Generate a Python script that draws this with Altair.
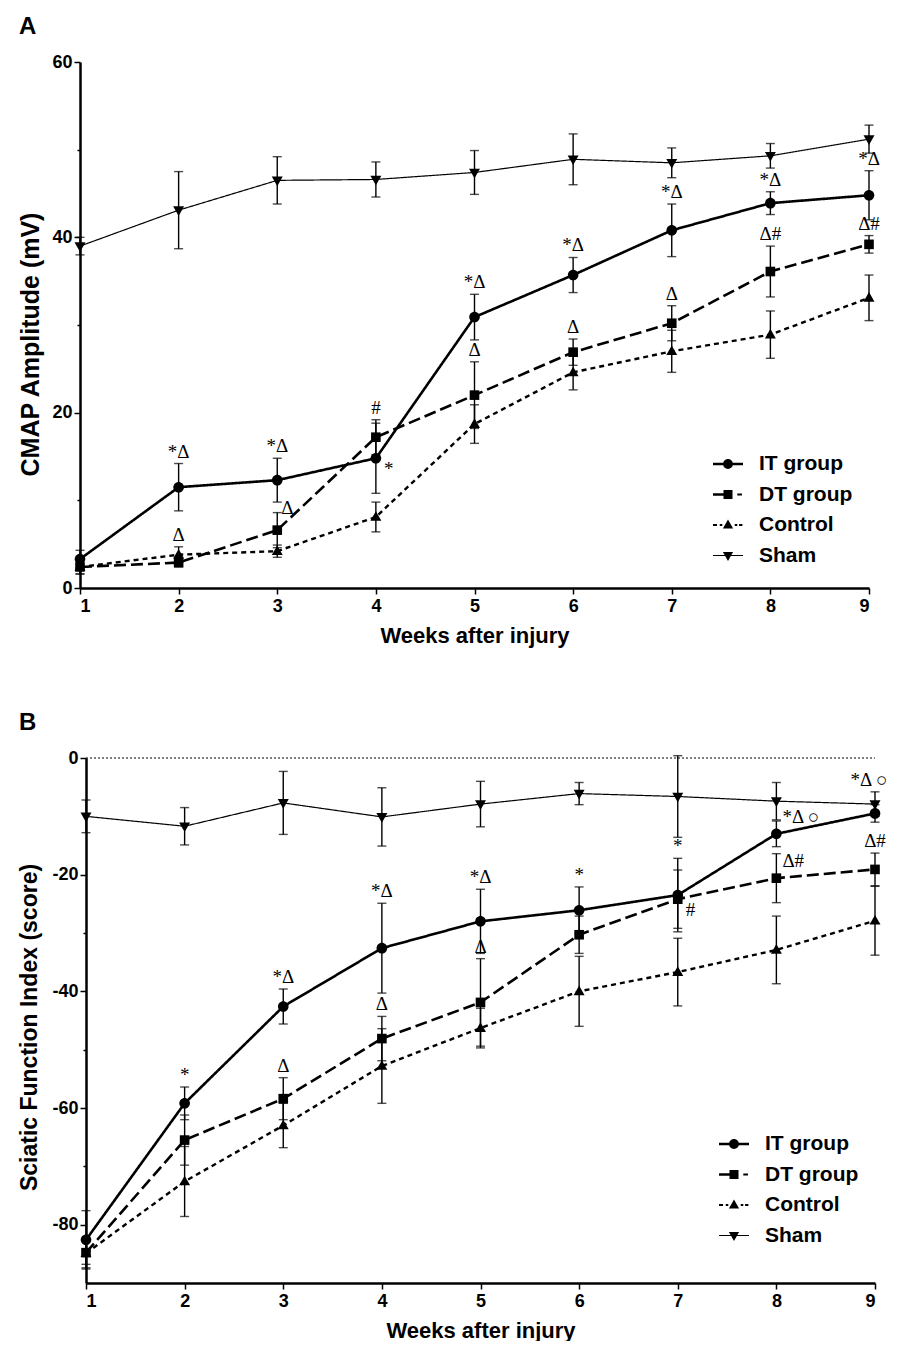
import altair as alt
import pandas as pd

weeks = [1, 2, 3, 4, 5, 6, 7, 8, 9]
groups = ["IT group", "DT group", "Control", "Sham"]

# Panel A: CMAP amplitude (mV), mean and error
a_it = [3.3, 11.5, 12.3, 14.8, 30.9, 35.7, 40.8, 43.9, 44.8]
a_it_err = [1.0, 2.7, 2.5, 4.0, 2.6, 2.0, 3.0, 1.3, 2.8]
a_dt = [2.4, 2.9, 6.6, 17.2, 22.0, 26.9, 30.2, 36.1, 39.2]
a_dt_err = [0.8, 0.5, 2.0, 2.0, 3.8, 1.5, 2.0, 2.9, 1.0]
a_ctrl = [2.4, 3.8, 4.2, 8.1, 18.7, 24.6, 27.0, 28.9, 33.1]
a_ctrl_err = [0.8, 0.9, 0.7, 1.7, 2.2, 2.0, 2.4, 2.7, 2.6]
a_sham = [39.0, 43.1, 46.5, 46.6, 47.4, 48.9, 48.5, 49.3, 51.2]
a_sham_err = [1.0, 4.4, 2.7, 2.0, 2.5, 2.9, 1.7, 1.4, 1.6]

# Panel B: Sciatic function index (score)
b_it = [-82.6, -59.2, -42.6, -32.6, -28.0, -26.1, -23.5, -13.0, -9.5]
b_it_err = [5.0, 2.8, 3.0, 7.7, 5.5, 4.0, 6.3, 2.2, 1.5]
b_dt = [-84.8, -65.5, -58.4, -48.1, -41.9, -30.3, -24.2, -20.6, -19.1]
b_dt_err = [2.0, 4.3, 3.6, 3.8, 7.5, 3.2, 5.0, 4.2, 2.8]
b_ctrl = [-84.9, -72.6, -63.0, -52.8, -46.3, -40.0, -36.7, -32.9, -27.9]
b_ctrl_err = [2.5, 6.0, 3.8, 6.4, 3.4, 6.0, 5.8, 5.8, 5.9]
b_sham = [-10.0, -11.7, -7.7, -10.1, -7.9, -6.1, -6.6, -7.4, -7.9]
b_sham_err = [2.8, 3.2, 5.4, 5.0, 3.9, 1.9, 7.0, 3.2, 2.1]

# significance marks: (week, group anchored to, text, placement)
ann_a = [
    (2, "IT group", "*Δ", "above"), (2, "Control", "Δ", "above"),
    (3, "IT group", "*Δ", "above"), (3, "DT group", "Δ", "right"),
    (4, "DT group", "#", "above"), (4, "IT group", "*", "right_low"),
    (5, "IT group", "*Δ", "above"), (5, "DT group", "Δ", "above"),
    (6, "IT group", "*Δ", "above"), (6, "DT group", "Δ", "above"),
    (7, "IT group", "*Δ", "above"), (7, "DT group", "Δ", "above"),
    (8, "IT group", "*Δ", "above"), (8, "DT group", "Δ#", "above"),
    (9, "IT group", "*Δ", "above"), (9, "DT group", "Δ#", "above"),
]
ann_b = [
    (2, "IT group", "*", "above"),
    (3, "IT group", "*Δ", "above"), (3, "DT group", "Δ", "above"),
    (4, "IT group", "*Δ", "above"), (4, "DT group", "Δ", "above"),
    (5, "IT group", "*Δ", "above"), (5, "DT group", "Δ", "above"),
    (6, "IT group", "*", "above"),
    (7, "IT group", "*", "above"), (7, "DT group", "#", "right_low"),
    (8, "IT group", "*Δ ○", "right_up"), (8, "DT group", "Δ#", "right_up"),
    (9, "Sham", "*Δ ○", "above_l"), (9, "DT group", "Δ#", "above"),
]

# plot markers (custom symbol paths, unit square)
marker_paths = [
    "M0.32,0A0.32,0.32 0 1,1 -0.32,0A0.32,0.32 0 1,1 0.32,0Z",
    "M-0.29,-0.29H0.29V0.29H-0.29Z",
    "M0,-0.35L0.33,0.23H-0.33Z",
    "M0,0.35L-0.33,-0.23H0.33Z",
]
# legend keys: line pieces drawn as filled bars plus the marker
legend_paths = [
    "M-1,-0.085H1V0.085H-1Z M0.33,0A0.33,0.33 0 1,1 -0.33,0A0.33,0.33 0 1,1 0.33,0Z",
    "M-1,-0.085H-0.2V0.085H-1Z M-0.3,-0.3H0.3V0.3H-0.3Z M0.62,-0.07H0.93V0.07H0.62Z",
    "M-1,-0.07H-0.73V0.07H-1Z M-0.55,-0.07H-0.38V0.07H-0.55Z M0,-0.36L0.34,0.24H-0.34Z "
    "M0.45,-0.07H0.62V0.07H0.45Z M0.74,-0.07H0.96V0.07H0.74Z",
    "M-1,-0.04H1V0.04H-1Z M0,0.36L-0.34,-0.24H0.34Z",
]
dashes = [[1, 0], [12, 5], [5, 4], [1, 0]]
widths = [2.6, 2.6, 2.4, 1.2]

FONT = "Liberation Sans"


def long_table(series):
    rows = []
    for g, (m, e) in zip(groups, series):
        for w, mv, ev in zip(weeks, m, e):
            rows.append({"week": w, "group": g, "mean": mv, "lo": mv - ev, "hi": mv + ev})
    return pd.DataFrame(rows)


def ann_table(df, ann):
    rows = []
    for w, g, t, p in ann:
        r = df[(df.week == w) & (df.group == g)].iloc[0]
        y = r["mean"] if p.endswith("_low") or p.endswith("_up") else r["hi"]
        rows.append({"week": w, "y": y, "text": t, "place": p})
    return pd.DataFrame(rows)


place_style = {
    "above": dict(align="center", baseline="bottom", dx=0, dy=-2),
    "above_l": dict(align="center", baseline="bottom", dx=-6, dy=-2),
    "right": dict(align="left", baseline="middle", dx=4, dy=-5),
    "right_low": dict(align="left", baseline="middle", dx=8, dy=11),
    "right_up": dict(align="left", baseline="middle", dx=6, dy=-17),
}

PLOT_W = 789


def panel(df, ann, ydomain, yvals, ytitle, ytitle_size, ytitle_y, ytitle_pad, letter,
          legend_x, legend_y, height, zero_line, shift):
    base = alt.Chart(df)
    x = alt.X(
        "week:Q",
        scale=alt.Scale(domain=[1, 9], nice=False, zero=False, range=[shift, PLOT_W + shift]),
        axis=alt.Axis(values=weeks, title="Weeks after injury", format="d",
                      tickSize=6, labelPadding=3, titlePadding=10),
    )
    y = alt.Y(
        "mean:Q",
        scale=alt.Scale(domain=ydomain, nice=False, zero=False),
        axis=alt.Axis(
            values=yvals, title=ytitle, titleFontSize=ytitle_size, titleY=ytitle_y,
            labelExpr="datum.value % 20 === 0 ? toString(datum.value) : ''",
            tickSize={"condition": {"test": "datum.value % 20 === 0", "value": 6}, "value": 3},
            labelPadding=2, titlePadding=ytitle_pad, offset=-shift,
        ),
    )
    lines = base.mark_line(color="black").encode(
        x=x, y=y,
        strokeDash=alt.StrokeDash("group:N", scale=alt.Scale(domain=groups, range=dashes), legend=None),
        strokeWidth=alt.StrokeWidth("group:N", scale=alt.Scale(type="ordinal", domain=groups, range=widths),
                                    legend=None),
    )
    rules = base.mark_rule(color="black", strokeWidth=1.4).encode(x="week:Q", y="lo:Q", y2="hi:Q")
    cap_lo = base.mark_tick(orient="horizontal", size=9, thickness=1.4, color="black").encode(x="week:Q", y="lo:Q")
    cap_hi = base.mark_tick(orient="horizontal", size=9, thickness=1.4, color="black").encode(x="week:Q", y="hi:Q")
    points = base.mark_point(filled=True, size=1100, opacity=1, color="black").encode(
        x="week:Q", y="mean:Q",
        shape=alt.Shape("group:N", scale=alt.Scale(domain=groups, range=marker_paths), legend=None),
    )
    # legend-only layer (no rows): its shape scale carries the legend keys
    empty = pd.DataFrame({"week": pd.Series([], dtype=float), "mean": pd.Series([], dtype=float),
                          "group": pd.Series([], dtype=str)})
    legend_layer = alt.Chart(empty).mark_point(filled=True, color="black", opacity=1).encode(
        x="week:Q", y="mean:Q",
        shape=alt.Shape("group:N", scale=alt.Scale(domain=groups, range=legend_paths),
                        legend=alt.Legend(title=None, orient="none", legendX=legend_x, legendY=legend_y)),
    )
    adf = ann_table(df, ann)
    texts = []
    for p, st in place_style.items():
        sub = adf[adf.place == p]
        if len(sub) == 0:
            continue
        texts.append(
            alt.Chart(sub).mark_text(font="Liberation Serif", fontSize=19, color="black", **st)
            .encode(x="week:Q", y="y:Q", text="text:N")
        )
    layers = []
    if zero_line:
        layers.append(
            alt.Chart(pd.DataFrame({"z": [0]})).mark_rule(color="black", strokeWidth=1, strokeDash=[2, 2])
            .encode(y="z:Q", x=alt.datum(weeks[0]), x2=alt.datum(weeks[-1]))
        )
    layers += [lines, rules, cap_lo, cap_hi, points, legend_layer] + texts
    return alt.layer(*layers).resolve_scale(shape="independent").properties(
        width=PLOT_W + shift, height=height,
        title=alt.TitleParams(letter, anchor="start", frame="bounds", fontSize=24,
                              fontWeight="bold", font=FONT, offset=14),
    )


dfa = long_table([(a_it, a_it_err), (a_dt, a_dt_err), (a_ctrl, a_ctrl_err), (a_sham, a_sham_err)])
dfb = long_table([(b_it, b_it_err), (b_dt, b_dt_err), (b_ctrl, b_ctrl_err), (b_sham, b_sham_err)])

pa = panel(dfa, ann_a, [0, 60], [0, 10, 20, 30, 40, 50, 60], "CMAP Amplitude (mV)", 25, 282, 8, "A",
           633, 387, 526, False, 0)
pb = panel(dfb, ann_b, [-90, 0], [0, -10, -20, -30, -40, -50, -60, -70, -80],
           "Sciatic Function Index (score)", 23, 269, 10, "B", 639, 371, 525, True, 6)

chart = (
    alt.concat(pa, pb, columns=1, spacing=65, align="none")
    .resolve_scale(shape="independent", strokeDash="independent", strokeWidth="independent")
    .resolve_legend(shape="independent")
    .properties(padding={"left": 10, "top": 7, "right": 0, "bottom": 0})
    .configure_view(stroke=None)
    .configure_axis(
        grid=False, domainColor="black", domainWidth=2.5, tickColor="black", tickWidth=1.5,
        labelFont=FONT, labelFontSize=18, labelFontWeight="bold", labelColor="black",
        titleFont=FONT, titleFontSize=22, titleFontWeight="bold", titleColor="black",
    )
    .configure_legend(
        labelFont=FONT, labelFontSize=21, labelFontWeight="bold", labelColor="black",
        symbolSize=900, labelOffset=16, rowPadding=5.5, padding=0,
        symbolStrokeWidth=0, symbolFillColor="black", symbolOpacity=1,
    )
)

chart.save("out.html", embed_options={"renderer": "svg", "actions": False})
